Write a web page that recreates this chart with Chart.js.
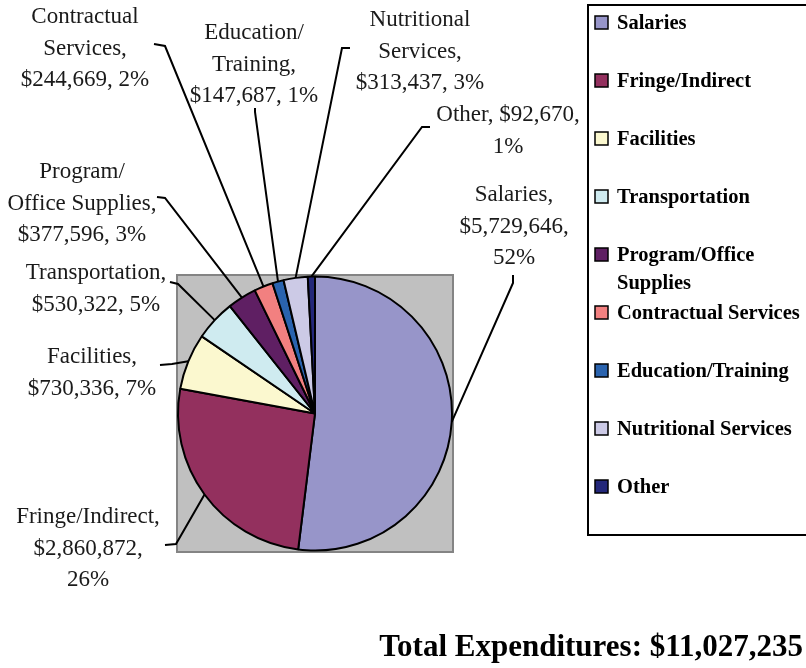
<!DOCTYPE html>
<html>
<head>
<meta charset="utf-8">
<script src="https://cdn.jsdelivr.net/npm/chart.js@4.4.0/dist/chart.umd.min.js"></script>
<style>
  html, body { margin: 0; padding: 0; background: #fff; }
  canvas { display: block; }
</style>
</head>
<body>
<canvas id="expChart" width="806" height="668"></canvas>
<script>
// data
const categories = ['Salaries', 'Fringe/Indirect', 'Facilities', 'Transportation',
  'Program/Office Supplies', 'Contractual Services', 'Education/Training',
  'Nutritional Services', 'Other'];
const amounts = [5729646, 2860872, 730336, 530322, 377596, 244669, 147687, 313437, 92670];
const sliceColors = ['#9795C9', '#93305E', '#FBF8CF', '#CFEBF0', '#5F1F63',
  '#F28080', '#2A63AE', '#CCCAE6', '#23277A'];

var total = amounts.reduce((a, b) => a + b, 0);
var money = v => '$' + v.toLocaleString('en-US');

// how many words go on each line of a slice label
var wordsPerLine = [[1,1,1],[2,1,1],[1,2],[1,2],[1,2,2],[1,1,2],[1,1,2],[1,1,2],[2,1]];
// where each label sits: centre x, first line y, and the little tick of its leader
var labelSpots = [
  { x: 514, y: 195, tick: [513, 275, 513, 283] },
  { x: 88,  y: 517, tick: [165, 545, 176, 544] },
  { x: 92,  y: 357, tick: [160, 365, 172, 364] },
  { x: 96,  y: 273, tick: [170, 282, 178, 284] },
  { x: 82,  y: 172, tick: [157, 197, 165, 198] },
  { x: 85,  y: 17,  tick: [154, 44, 165, 46] },
  { x: 254, y: 33,  tick: [255, 108, 255, 112] },
  { x: 420, y: 20,  tick: [350, 48, 342, 48] },
  { x: 508, y: 115, tick: [430, 127, 422, 127] }
];

var labelLines = function(i) {
  var pct = Math.round(amounts[i] / total * 100);
  var text = categories[i] + ', ' + money(amounts[i]) + ', ' + pct + '%';
  var words = [];
  text.split(' ').forEach(function(w) {
    var parts = w.split('/');
    parts.forEach(function(p, k) { words.push(k < parts.length - 1 ? p + '/' : p); });
  });
  var lines = [];
  var n = 0;
  wordsPerLine[i].forEach(function(cnt) {
    var line = '';
    for (var k = 0; k < cnt; k++) {
      var w = words[n++];
      if (line == '' || line.endsWith('/')) line += w; else line += ' ' + w;
    }
    lines.push(line);
  });
  return lines;
};

var decor = {
  id: 'decor',
  beforeDatasetsDraw: function(chart) {
    var ctx = chart.ctx, a = chart.chartArea;
    ctx.save();
    ctx.fillStyle = '#C0C0C0';
    ctx.fillRect(a.left, a.top, a.right - a.left, a.bottom - a.top);
    ctx.strokeStyle = '#848484';
    ctx.lineWidth = 2;
    ctx.strokeRect(a.left, a.top, a.right - a.left, a.bottom - a.top);
    ctx.restore();
  },
  afterDatasetsDraw: function(chart) {
    var ctx = chart.ctx;
    var arcs = chart.getDatasetMeta(0).data;
    ctx.save();
    // leaders
    ctx.strokeStyle = '#000';
    ctx.lineWidth = 2;
    arcs.forEach(function(arc, i) {
      var mid = (arc.startAngle + arc.endAngle) / 2;
      var px = arc.x + Math.cos(mid) * arc.outerRadius;
      var py = arc.y + Math.sin(mid) * arc.outerRadius;
      var t = labelSpots[i].tick;
      ctx.beginPath();
      ctx.moveTo(t[0], t[1]);
      ctx.lineTo(t[2], t[3]);
      ctx.lineTo(px, py);
      ctx.stroke();
    });
    // slice labels
    ctx.fillStyle = '#1a1a1a';
    ctx.font = '23px "Liberation Serif"';
    ctx.textAlign = 'center';
    ctx.textBaseline = 'middle';
    arcs.forEach(function(arc, i) {
      labelLines(i).forEach(function(l, k) {
        ctx.fillText(l, labelSpots[i].x, labelSpots[i].y + k * 31.5);
      });
    });
    // legend
    ctx.lineWidth = 2;
    ctx.strokeStyle = '#000';
    ctx.strokeRect(588, 5, 240, 530);
    ctx.font = 'bold 20.5px "Liberation Serif"';
    ctx.textAlign = 'left';
    ctx.textBaseline = 'alphabetic';
    categories.forEach(function(c, i) {
      var y = 29 + i * 58;
      ctx.fillStyle = sliceColors[i];
      ctx.fillRect(595, y - 13, 13, 13);
      ctx.lineWidth = 1.5;
      ctx.strokeRect(595, y - 13, 13, 13);
      ctx.fillStyle = '#000';
      var words = c.split(' '), line = '', lines = [];
      words.forEach(function(w) {
        var test = line ? line + ' ' + w : w;
        if (line && ctx.measureText(test).width > 190) { lines.push(line); line = w; }
        else line = test;
      });
      lines.push(line);
      lines.forEach(function(l, k) { ctx.fillText(l, 617, y + k * 28); });
    });
    // total
    ctx.font = 'bold 31px "Liberation Serif"';
    ctx.textAlign = 'right';
    ctx.fillText('Total Expenditures: ' + money(total), 803, 656);
    ctx.restore();
  }
};

new Chart(document.getElementById('expChart'), {
  type: 'pie',
  data: {
    labels: categories,
    datasets: [{
      data: amounts,
      backgroundColor: sliceColors,
      borderColor: '#000',
      borderWidth: 2
    }]
  },
  options: {
    responsive: false,
    animation: false,
    devicePixelRatio: 1,
    layout: { padding: { left: 177, right: 353, top: 275, bottom: 116 } },
    plugins: {
      legend: { display: false },
      tooltip: { enabled: false },
      title: { display: false }
    }
  },
  plugins: [decor]
});
</script>
</body>
</html>
